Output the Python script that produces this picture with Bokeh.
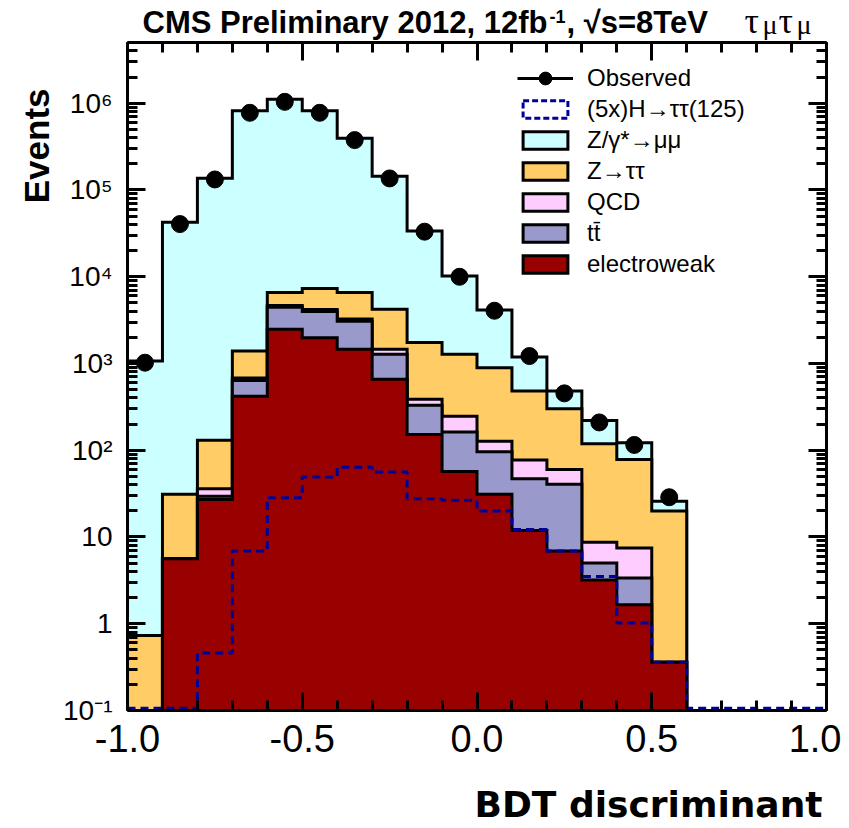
import numpy as np
from bokeh.plotting import figure
from bokeh.layouts import column
from bokeh.models import (ColumnDataSource, Legend, LegendItem, Label,
                          LinearAxis, LogAxis, FixedTicker, PrintfTickFormatter)
from bokeh.embed import file_html
from bokeh.resources import INLINE

# ---------------- data ----------------
bin_edges = [-1.0, -0.9, -0.8, -0.7, -0.6, -0.5, -0.4, -0.3, -0.2, -0.1, 0.0,
             0.1, 0.2, 0.3, 0.4, 0.5, 0.6, 0.7, 0.8, 0.9, 1.0]
observed = [1020, 40400, 132000, 774000, 1035000, 774000, 375000, 135600, 33000, 9970,
            4050, 1217, 452, 209, 115, 28.7, 0, 0, 0, 0]
zmumu = [1068, 42370, 135870, 813600, 1103000, 807700, 388400, 139800, 31960, 8930,
         3240, 709, 180, 102, 44, 6, 0, 0, 0, 0]
ztautau = [0.73, 25.4, 94, 712, 1920, 3120, 3300, 2755, 1354, 1026,
           767, 404, 241, 110, 70.5, 19.5, 0, 0, 0, 0]
qcd = [0, 0, 6.5, 40, 200, 200, 200, 182, 57, 85,
       31, 30, 19.6, 3.7, 4.1, 0, 0, 0, 0, 0]
ttbar = [0, 0, 2.5, 218, 1970, 2000, 1605, 617, 177, 105,
         65, 35, 33.5, 1.8, 1.7, 0, 0, 0, 0, 0]
electroweak = [0, 5.6, 27, 420, 2470, 1980, 1455, 656, 152, 57,
               31, 11.9, 6.9, 3.2, 1.66, 0.36, 0, 0, 0, 0]
higgs_5x = [0, 0, 0.46, 6.9, 28.3, 49, 63.8, 55.9, 27.5, 26.5,
            19.9, 12.2, 6.9, 3.5, 1.02, 0.36, 0, 0, 0, 0]

x_major_ticks = [-1.0, -0.5, 0.0, 0.5, 1.0]
y_tick_values = [0.1, 1, 10, 100, 1000, 10000, 100000, 1000000]
y_tick_base = ["10", "1", "10", "10", "10", "10", "10", "10"]
y_tick_exp = ["-1", "", "", "2", "3", "4", "5", "6"]

labels = ["Observed", "(5x)H\u2192\u03c4\u03c4(125)", "Z/\u03b3*\u2192\u03bc\u03bc",
          "Z\u2192\u03c4\u03c4", "QCD", "tt\u0304", "electroweak"]
colors = {"zmumu": "#CCFFFF", "ztt": "#FFCC66", "qcd": "#FFCCFF",
          "tt": "#9999CC", "ewk": "#990000", "higgs": "#000099"}

FONT = "Liberation Sans"
Y_MIN, Y_MAX = 0.1, 5.0e6
SUP = str.maketrans("-0123456789", "\u207b\u2070\u00b9\u00b2\u00b3\u2074\u2075\u2076\u2077\u2078\u2079")


def step_outline(edges, vals, floor):
    xs, ys = [edges[0]], [floor]
    for i, v in enumerate(vals):
        v = max(v, floor)
        xs += [edges[i], edges[i + 1]]
        ys += [v, v]
    xs.append(edges[-1])
    ys.append(floor)
    return xs, ys


def strip(height):
    f = figure(width=841, height=height, frame_height=height, x_axis_type=None,
               y_axis_type=None, output_backend="svg", toolbar_location=None,
               min_border=0, title_location=None)
    f.outline_line_color = None
    f.grid.visible = False
    return f


def add_label(fig, x, y, text, size, bold=True, font=FONT, align="left"):
    fig.add_layout(Label(x=x, y=y, x_units="screen", y_units="screen", text=text,
                         text_align=align, text_baseline="middle",
                         text_font=font, text_font_style="bold" if bold else "normal",
                         text_font_size=size, text_color="black"))


# ---------------- header strip (frame aligned with main frame: x from 127) ----------------
hdr = strip(40)
add_label(hdr, 15, 18, "CMS  Preliminary 2012, 12fb", "31px")
add_label(hdr, 422, 24, "-1", "18px")
add_label(hdr, 439, 18, ", \u221as=8TeV", "31px")
add_label(hdr, 617, 20, "\u03c4", "36px", bold=False, font="Liberation Serif")
add_label(hdr, 635, 16, "\u03bc", "28px", bold=False, font="Liberation Serif")
add_label(hdr, 651, 20, "\u03c4", "36px", bold=False, font="Liberation Serif")
add_label(hdr, 669, 16, "\u03bc", "28px", bold=False, font="Liberation Serif")

# ---------------- footer strip ----------------
ftr = strip(56)
add_label(ftr, 695, 22, "BDT discriminant", "36px", font="DejaVu Sans", align="right")

# ---------------- main plot ----------------
p = figure(width=841, height=730, x_range=(-1.0, 1.0), y_range=(Y_MIN, Y_MAX),
           y_axis_type="log", output_backend="svg", toolbar_location=None,
           title="Events", title_location="left",
           min_border_left=127, min_border_right=15, min_border_top=2,
           min_border_bottom=60)
p.grid.visible = False
p.outline_line_color = None
p.title.align = "right"
p.title.offset = 46
p.title.text_font = FONT
p.title.text_font_style = "bold"
p.title.text_font_size = "35px"
p.title.text_color = "black"
p.title.standoff = 10

# stacked histograms (cumulative, drawn from the top layer down)
c_ewk = np.array(electroweak, dtype=float)
c_tt = c_ewk + np.array(ttbar)
c_qcd = c_tt + np.array(qcd)
c_ztt = c_qcd + np.array(ztautau)
c_tot = c_ztt + np.array(zmumu)

layer_r = {}
for key, cum in [("zmumu", c_tot), ("ztt", c_ztt), ("qcd", c_qcd), ("tt", c_tt), ("ewk", c_ewk)]:
    xs, ys = step_outline(bin_edges, cum, 0.05)
    layer_r[key] = p.patch(xs, ys, fill_color=colors[key], line_color="black",
                           line_width=3, line_join="miter")

# signal (empty bins drawn just above the lower frame edge, as in the original)
hx, hy = step_outline(bin_edges, higgs_5x, 0.106)
p.line(hx, hy, line_color=colors["higgs"], line_width=3, line_dash="8 5")

# observed
centers = [(bin_edges[i] + bin_edges[i + 1]) / 2 for i in range(len(observed))]
obs_src = ColumnDataSource(dict(x=[c for c, v in zip(centers, observed) if v > 0],
                                y=[v for v in observed if v > 0]))
obs_pts = p.scatter("x", "y", source=obs_src, size=17, marker="circle",
                    fill_color="black", line_color="black")

# hidden renderers used only for legend glyphs
obs_line = p.line("x", "y", source=obs_src, line_color="black", line_width=3, visible=False)
h_box = p.quad(left=bin_edges[:-1], right=bin_edges[1:],
               top=[max(v, Y_MIN) for v in higgs_5x], bottom=[Y_MIN] * len(higgs_5x),
               fill_alpha=0, line_color=colors["higgs"], line_width=3, line_dash="6 3",
               visible=False)

# ---------------- axes ----------------
x_ticker = FixedTicker(ticks=x_major_ticks, minor_ticks=bin_edges)
y_minor = [m * 10.0 ** k for k in range(-1, 7) for m in range(2, 10)]
y_ticker = FixedTicker(ticks=y_tick_values, minor_ticks=y_minor)


def style_axis(ax):
    ax.axis_line_width = 3
    ax.axis_line_color = "black"
    ax.major_tick_in = 18
    ax.major_tick_out = 0
    ax.minor_tick_in = 10
    ax.minor_tick_out = 0
    ax.major_tick_line_width = 3
    ax.minor_tick_line_width = 3
    ax.major_tick_line_color = "black"
    ax.minor_tick_line_color = "black"


def hide_labels(ax):
    ax.major_label_text_font_size = "0px"
    ax.major_label_standoff = 0
    ax.major_label_text_color = None


xa = p.xaxis[0]
xa.ticker = x_ticker
xa.formatter = PrintfTickFormatter(format="%.1f")
style_axis(xa)
xa.major_label_text_font = FONT
xa.major_label_text_font_size = "38px"
xa.major_label_text_color = "black"
xa.major_label_standoff = 14

ya = p.yaxis[0]
ya.ticker = y_ticker
style_axis(ya)
ya.major_label_overrides = {v: b + e.translate(SUP)
                            for v, b, e in zip(y_tick_values, y_tick_base, y_tick_exp)}
ya.major_label_text_font = FONT
ya.major_label_text_font_size = "28px"
ya.major_label_text_color = "black"
ya.major_label_standoff = 15

top_ax = LinearAxis(ticker=x_ticker)
style_axis(top_ax)
hide_labels(top_ax)
p.add_layout(top_ax, "above")

right_ax = LogAxis(ticker=y_ticker)
style_axis(right_ax)
hide_labels(right_ax)
p.add_layout(right_ax, "right")

# legends
common = dict(padding=0, margin=0, border_line_alpha=0, background_fill_alpha=0,
              label_text_font=FONT, label_text_font_size="24px",
              label_text_color="black", glyph_width=56, label_standoff=14)
leg1 = Legend(items=[LegendItem(label=labels[0], renderers=[obs_line, obs_pts])],
              location=(390, 616), glyph_height=32, label_height=32, **common)
leg2 = Legend(items=[LegendItem(label=labels[1], renderers=[h_box]),
                     LegendItem(label=labels[2], renderers=[layer_r["zmumu"]]),
                     LegendItem(label=labels[3], renderers=[layer_r["ztt"]]),
                     LegendItem(label=labels[4], renderers=[layer_r["qcd"]]),
                     LegendItem(label=labels[5], renderers=[layer_r["tt"]]),
                     LegendItem(label=labels[6], renderers=[layer_r["ewk"]])],
              location=(390, 432), glyph_height=22, label_height=28, spacing=3, **common)
p.add_layout(leg1, "center")
p.add_layout(leg2, "center")

layout = column(hdr, p, ftr, spacing=0)
open("out.html", "w").write(file_html(layout, INLINE))
